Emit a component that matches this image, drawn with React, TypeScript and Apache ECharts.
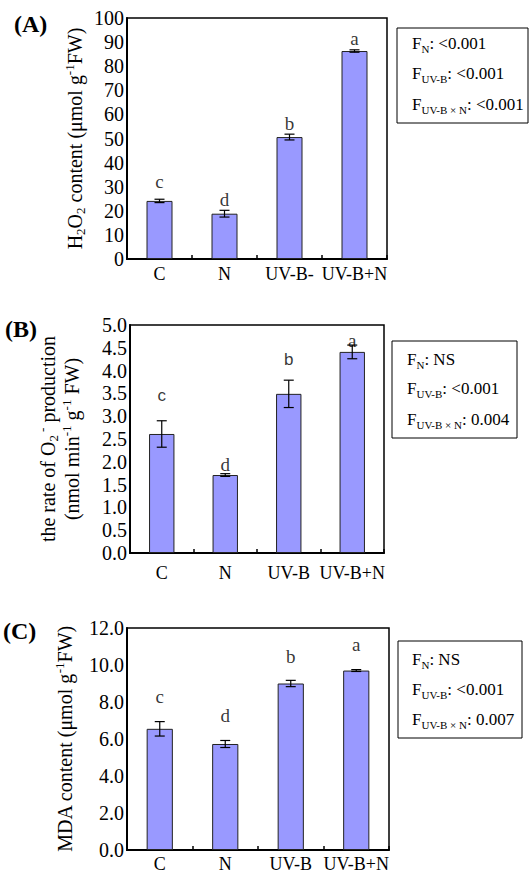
import React, { useEffect, useRef } from "react";
import * as echarts from "echarts";

// ---------- data ----------
const categoriesA = ["C", "N", "UV-B-", "UV-B+N"];
const categoriesBC = ["C", "N", "UV-B", "UV-B+N"];

const h2o2Values = [24.1, 18.8, 50.6, 86.3];
const h2o2Errors = [0.7, 1.4, 1.2, 0.5];
const h2o2Letters = ["c", "d", "b", "a"];
const h2o2LetterY = [32, 24.5, 56.4, 91.3];

const o2Values = [2.61, 1.71, 3.49, 4.41];
const o2Errors = [0.29, 0.03, 0.3, 0.15];
const o2Letters = ["c", "d", "b", "a"];
const o2LetterY = [3.46, 1.93, 4.25, 4.67];

const mdaValues = [6.55, 5.73, 9.0, 9.7];
const mdaErrors = [0.39, 0.19, 0.17, 0.05];
const mdaLetters = ["c", "d", "b", "a"];
const mdaLetterY = [8.32, 7.25, 10.46, 11.09];

const statsA = [["N", "<0.001"], ["UV-B", "<0.001"], ["UV-B × N", "<0.001"]];
const statsB = [["N", "NS"], ["UV-B", "<0.001"], ["UV-B × N", "0.004"]];
const statsC = [["N", "NS"], ["UV-B", "<0.001"], ["UV-B × N", "0.007"]];

const yTicksA = { min: 0, max: 100, interval: 10, digits: 0 };
const yTicksB = { min: 0, max: 5, interval: 0.5, digits: 1 };
const yTicksC = { min: 0, max: 12, interval: 2, digits: 1 };

// ---------- styles ----------
const SERIF = "'Liberation Serif', 'Times New Roman', serif";
const SANS = "'Liberation Sans', Arial, sans-serif";
const BAR = "#9999ff";
const letterFontsB = [SANS, SERIF, SANS, SERIF];

const grids = [
  { left: 127, top: 18, width: 260, height: 241 },
  { left: 130, top: 325, width: 254, height: 228 },
  { left: 127, top: 628, width: 262, height: 224 },
];

const richAxis = {
  m: { fontFamily: SERIF, fontSize: 20, color: "#000", lineHeight: 24 },
  s: { fontFamily: SERIF, fontSize: 13, color: "#000", lineHeight: 13, verticalAlign: "bottom" },
  p: { fontFamily: SERIF, fontSize: 13, color: "#000", lineHeight: 13, verticalAlign: "top" },
};

const nameA = "{m|H}{s|2}{m|O}{s|2}{m| content (μmol g}{p|-1}{m|FW)}";
const nameB = "{m|the rate of O}{s|2}{p| -}{m| production}\n{m|(nmol min}{p|-1}{m| g}{p|-1}{m| FW)}";
const nameC = "{m|MDA content (μmol g}{p|-1}{m|FW)}";

function errorRender(params: any, api: any) {
  const x = api.value(0);
  const v = api.value(1);
  const e = api.value(2);
  const t = api.coord([x, v + e]);
  const b = api.coord([x, v - e]);
  const hw = 5;
  const st = { stroke: "#000", lineWidth: 1.2 };
  return {
    type: "group",
    children: [
      { type: "line", shape: { x1: t[0], y1: t[1], x2: b[0], y2: b[1] }, style: st },
      { type: "line", shape: { x1: t[0] - hw, y1: t[1], x2: t[0] + hw, y2: t[1] }, style: st },
      { type: "line", shape: { x1: b[0] - hw, y1: b[1], x2: b[0] + hw, y2: b[1] }, style: st },
    ],
  };
}

function legendBox(x: number, y: number, w: number, h: number, stats: string[][], rowYs: number[], textX: number) {
  const rich = {
    m: { fontFamily: SERIF, fontSize: 17, fill: "#000", color: "#000", lineHeight: 22 },
    s: { fontFamily: SERIF, fontSize: 11, fill: "#000", color: "#000", lineHeight: 11, verticalAlign: "bottom" },
  };
  return {
    type: "group",
    x,
    y,
    children: [
      { type: "rect", shape: { x: 0, y: 0, width: w, height: h }, style: { fill: "#fff", stroke: "#000", lineWidth: 1 } },
      ...stats.map((s, i) => ({
        type: "text",
        x: textX,
        y: rowYs[i],
        style: {
          text: `{m|F}{s|${s[0]}}{m|: ${s[1]}}`,
          rich,
          verticalAlign: "middle",
          align: "left",
        },
      })),
    ],
  };
}

export default function App() {
  const ref = useRef<HTMLDivElement>(null);
  useEffect(() => {
    if (!ref.current) return;
    const chart = echarts.init(ref.current, undefined, { renderer: "svg" });
    const panels = [
      { cats: categoriesA, vals: h2o2Values, errs: h2o2Errors, letters: h2o2Letters, ly: h2o2LetterY, ticks: yTicksA, name: nameA, gap: 40, lm: 6, fonts: [SERIF, SERIF, SERIF, SERIF] },
      { cats: categoriesBC, vals: o2Values, errs: o2Errors, letters: o2Letters, ly: o2LetterY, ticks: yTicksB, name: nameB, gap: 46, lm: 11, fonts: letterFontsB },
      { cats: categoriesBC, vals: mdaValues, errs: mdaErrors, letters: mdaLetters, ly: mdaLetterY, ticks: yTicksC, name: nameC, gap: 50, lm: 5, fonts: [SERIF, SERIF, SERIF, SERIF] },
    ];
    const series: any[] = [];
    panels.forEach((p, gi) => {
      series.push({
        type: "bar",
        xAxisIndex: gi,
        yAxisIndex: gi,
        data: p.vals,
        barWidth: "40%",
        itemStyle: { color: BAR, borderColor: "#222", borderWidth: 1 },
        z: 2,
      });
      series.push({
        type: "custom",
        xAxisIndex: gi,
        yAxisIndex: gi,
        data: p.vals.map((v, i) => [i, v, p.errs[i]]),
        encode: { x: 0, y: 1 },
        renderItem: errorRender,
        z: 3,
      });
      series.push({
        type: "scatter",
        xAxisIndex: gi,
        yAxisIndex: gi,
        data: p.ly.map((v, i) => ({
          value: [i, v],
          label: { fontFamily: p.fonts[i], fontSize: p.fonts[i] === SANS ? 17 : 19 },
        })),
        symbolSize: 1,
        itemStyle: { color: "rgba(0,0,0,0)" },
        label: {
          show: true,
          position: "inside",
          formatter: (d: any) => p.letters[d.dataIndex],
          color: "#000",
          fontSize: 19,
          fontFamily: SERIF,
        },
        z: 4,
      });
    });

    const option: any = {
      animation: false,
      backgroundColor: "#fff",
      grid: grids.map((g) => ({ ...g, show: true, borderColor: "#000", borderWidth: 1.5, backgroundColor: "transparent", containLabel: false })),
      xAxis: panels.map((p, gi) => ({
        type: "category",
        gridIndex: gi,
        data: p.cats,
        boundaryGap: true,
        axisLine: { show: true, lineStyle: { color: "#000", width: 2 } },
        axisTick: { show: true, inside: true, length: 4, lineStyle: { color: "#000", width: 1.5 } },
        axisLabel: { color: "#000", fontFamily: SERIF, fontSize: 18, margin: p.lm, interval: 0 },
        splitLine: { show: false },
      })),
      yAxis: panels.map((p, gi) => ({
        type: "value",
        gridIndex: gi,
        min: p.ticks.min,
        max: p.ticks.max,
        interval: p.ticks.interval,
        name: p.name,
        nameLocation: "middle",
        nameGap: p.gap,
        nameTextStyle: { rich: richAxis, fontFamily: SERIF, fontSize: 20, color: "#000", align: "center" },
        axisLine: { show: true, lineStyle: { color: "#000", width: 2 } },
        axisTick: { show: false },
        axisLabel: {
          color: "#000",
          fontFamily: SERIF,
          fontSize: 20,
          margin: 3,
          formatter: (v: number) => v.toFixed(p.ticks.digits),
        },
        splitLine: { show: false },
      })),
      series,
      graphic: [
        { type: "text", x: 14, y: 24, style: { text: "(A)", font: `bold 24px ${SERIF}`, fill: "#000", verticalAlign: "middle" } },
        { type: "text", x: 5, y: 329, style: { text: "(B)", font: `bold 24px ${SERIF}`, fill: "#000", verticalAlign: "middle" } },
        { type: "text", x: 3, y: 631, style: { text: "(C)", font: `bold 24px ${SERIF}`, fill: "#000", verticalAlign: "middle" } },
        legendBox(397, 28, 131, 95, statsA, [15, 45, 76], 15),
        legendBox(392, 341, 125, 97, statsB, [18, 47, 78], 15),
        legendBox(398, 641, 124, 97, statsC, [18, 48, 78], 14),
      ],
    };
    chart.setOption(option);
    return () => chart.dispose();
  }, []);
  return <div ref={ref} style={{ position: "fixed", left: 0, top: 0, width: 530, height: 873, background: "#fff" }} />;
}
